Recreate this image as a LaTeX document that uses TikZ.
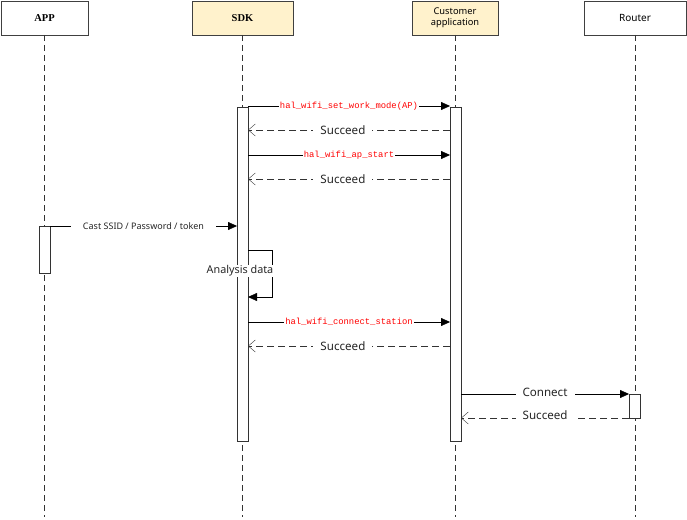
\documentclass[tikz,border=0pt]{standalone}
\usepackage{fontspec}
\setmainfont{Noto Sans}
\newfontfamily\codefont{Liberation Mono}
\newfontfamily\headfont{Liberation Serif}
\usetikzlibrary{arrows.meta}
\definecolor{boxyellow}{HTML}{FFF2CC}
\begin{document}
\begin{tikzpicture}[x=1pt, y=-1pt, >={Triangle[length=9pt,width=8pt]},
    actor/.style={draw=black!75, minimum height=34pt, inner sep=0pt, outer sep=0pt, align=center, font=\fontsize{9.3}{11}\selectfont},
    head/.style={font=\headfont\bfseries\fontsize{10.5}{12}\selectfont},
    life/.style={dash pattern=on 6pt off 4pt, black!80},
    act/.style={draw=black!80, fill=white, minimum width=11pt, inner sep=0pt, outer sep=0pt},
    call/.style={->},
    reply/.style={dash pattern=on 7pt off 4pt, black!80, -{Straight Barb[length=7pt,width=12pt]}},
    fn/.style={font=\codefont\fontsize{8.85}{10}\selectfont, text=red, fill=white, inner sep=1pt},
    msg/.style={font=\fontsize{11.6}{13}\selectfont, text=black!85, fill=white, inner xsep=7pt, inner ysep=1pt}]
  \useasboundingbox (0,0) rectangle (687,519);

  % participants
  \node[actor, head, minimum width=87pt] (app) at (44.5,18) {APP};
  \node[actor, head, fill=boxyellow, minimum width=101pt] (sdk) at (242.5,18) {SDK};
  \node[actor, fill=boxyellow, minimum width=86pt] (cust) at (455,18) {Customer\\application};
  \node[actor, minimum width=102pt, font=\fontsize{10}{12}\selectfont] (router) at (635,18) {Router};

  % lifelines
  \coordinate (append) at (44.5,517);
  \coordinate (sdkend) at (242.5,517);
  \coordinate (custend) at (455,517);
  \coordinate (routerend) at (635,517);
  \draw[life] (app.south) -- (append);
  \draw[life] (sdk.south) -- (sdkend);
  \draw[life] (cust.south) -- (custend);
  \draw[life] (router.south) -- (routerend);

  % activations
  \node[act, minimum height=334pt] (sdkact) at (242.5,274) {};
  \node[act, minimum height=334pt] (custact) at (455.5,274) {};
  \node[act, minimum height=47pt] (appact) at (44.5,249.5) {};
  \node[act, minimum height=24pt] (routeract) at (634.5,406) {};

  % messages
  \draw[call] (sdkact.east |- 0,106) -- (custact.west |- 0,106) node[midway, fn] {hal\_wifi\_set\_work\_mode(AP)};
  \draw[reply] (custact.west |- 0,130) -- (sdkact.east |- 0,130) node[pos=0.53, msg] {Succeed};
  \draw[call] (sdkact.east |- 0,155) -- (custact.west |- 0,155) node[midway, fn] {hal\_wifi\_ap\_start};
  \draw[reply] (custact.west |- 0,179) -- (sdkact.east |- 0,179) node[pos=0.53, msg] {Succeed};

  \draw[call] (appact.north east) -- (sdkact.west |- appact.north) node[midway, msg, font=\fontsize{9}{11}\selectfont, inner xsep=12pt] {Cast SSID / Password / token};

  \draw[call] (sdkact.east |- 0,250) -| (272,297) -- (sdkact.east |- 0,297);
  \node[fill=white, inner sep=1pt, text=black!85, font=\fontsize{10.8}{12}\selectfont] (analysis) at (240,271) {Analysis data};

  \draw[call] (sdkact.east |- 0,322) -- (custact.west |- 0,322) node[midway, fn] {hal\_wifi\_connect\_station};
  \draw[reply] (custact.west |- 0,346) -- (sdkact.east |- 0,346) node[pos=0.53, msg] {Succeed};

  \draw[call] (custact.east |- routeract.north) -- (routeract.north west) node[midway, msg, yshift=2pt] {Connect};
  \draw[reply] (routeract.south east) -- (custact.east |- routeract.south) node[pos=0.53, msg, yshift=3pt] {Succeed};
\end{tikzpicture}
\end{document}
